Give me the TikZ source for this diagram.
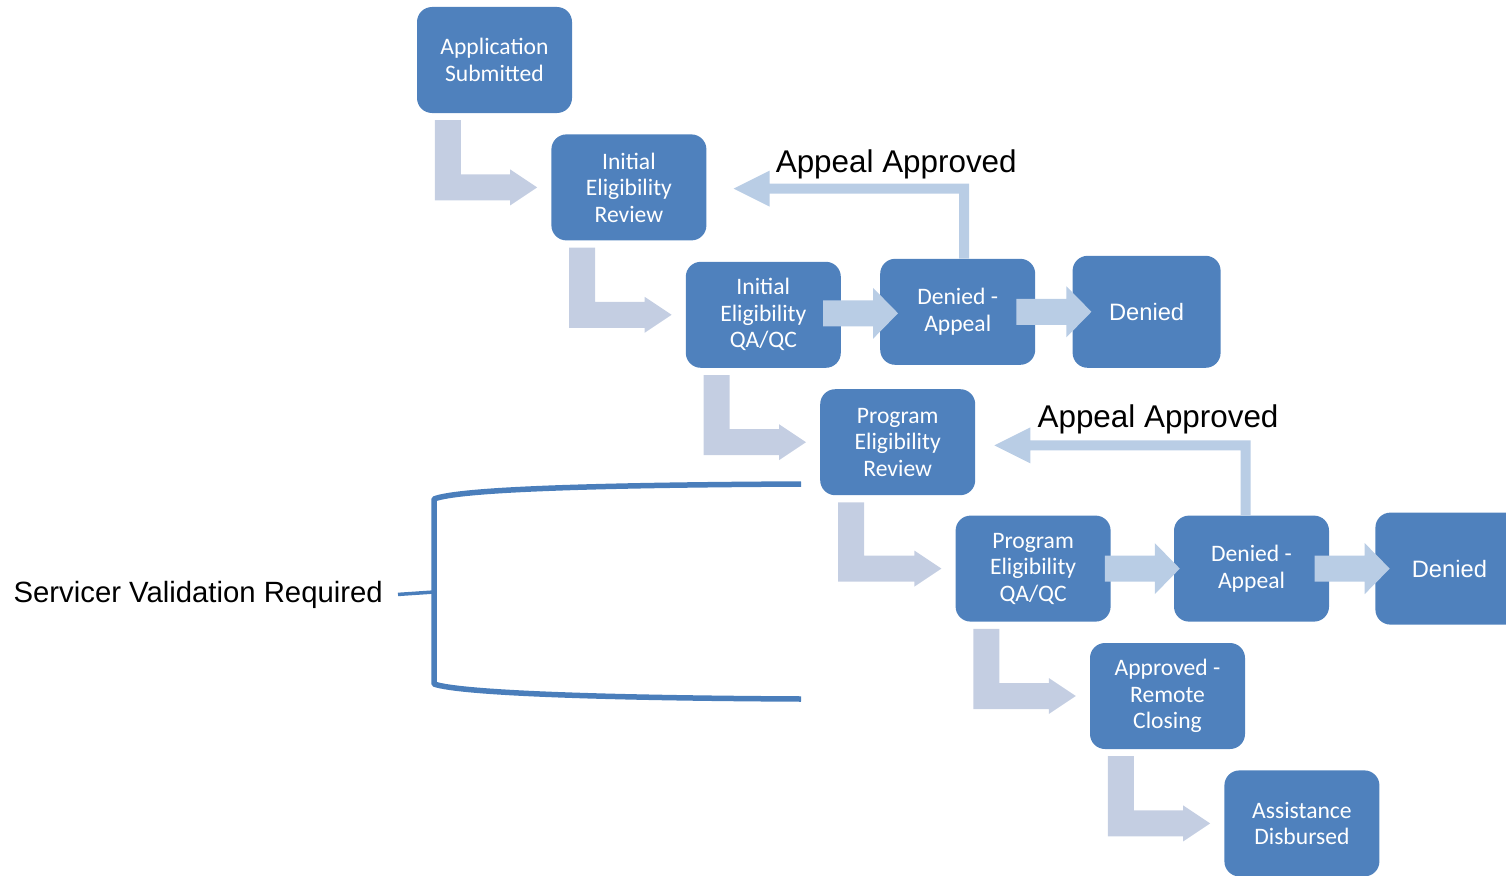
\documentclass[tikz,border=0pt]{standalone}
\usepackage{fontspec}
\setmainfont{Carlito}
\newfontfamily\arialfont{Liberation Sans}
\usepackage{tikz}
\usetikzlibrary{positioning,calc}
\definecolor{boxblue}{HTML}{4F81BD}
\definecolor{bentgray}{HTML}{C4CEE2}
\definecolor{flowblue}{HTML}{B9CDE5}
\definecolor{bracketblue}{HTML}{4A7EBB}
\tikzstyle{stage}=[rectangle,rounded corners=15pt,fill=boxblue,text=white,align=center,inner sep=0pt,minimum width=155pt,minimum height=106pt,font=\fontsize{23.6}{26.5}\selectfont]
\tikzstyle{final}=[stage,minimum width=148pt,minimum height=112pt,font=\arialfont\fontsize{23.7}{28}\selectfont]
\tikzstyle{note}=[inner sep=0pt,font=\arialfont\fontsize{31.4}{36}\selectfont]
\tikzstyle{bent}=[fill=bentgray]
\tikzstyle{flow}=[fill=flowblue]
\tikzstyle{brace}=[draw=bracketblue,line width=5.5pt,line join=round]
% bent arrow from under one box to the next box
\newcommand{\stepdown}[2]{%
  \fill[bent] let \p1=($(#1.south west)+(18pt,-7pt)$), \p2=($(#2.west)+(-14pt,0pt)$) in
    (\x1,\y1) -- (\x1+26pt,\y1) -- (\x1+26pt,\y2+13pt) -- (\x2-27pt,\y2+13pt) -- (\x2-27pt,\y2+18pt)
    -- (\x2,\y2) -- (\x2-27pt,\y2-18pt) -- (\x2-27pt,\y2-13pt) -- (\x1,\y2-13pt) -- cycle;}
% straight arrow between two boxes of a row
\newcommand{\passon}[2]{%
  \fill[flow] let \p1=($(#1.east)!0.5!(#2.west)$) in
    (\x1-37.5pt,\y1+13pt) -- (\x1+12.5pt,\y1+13pt) -- (\x1+12.5pt,\y1+25.5pt) -- (\x1+37.5pt,\y1)
    -- (\x1+12.5pt,\y1-25.5pt) -- (\x1+12.5pt,\y1-13pt) -- (\x1-37.5pt,\y1-13pt) -- cycle;}
% appeal arrow back up to a box
\newcommand{\appealback}[4]{%
  \fill[flow] let \p1=($(#1.north)+(#3pt,0pt)$), \p2=($(#2.east)+(#4pt,0pt)$) in
    (\x1-5pt,\y1) -- (\x1-5pt,\y1+65pt) -- (\x2+36pt,\y1+65pt) -- (\x2+36pt,\y1+52pt) -- (\x2,\y1+70pt)
    -- (\x2+36pt,\y1+88pt) -- (\x2+36pt,\y1+75pt) -- (\x1+5pt,\y1+75pt) -- (\x1+5pt,\y1) -- cycle;}
\begin{document}
\begin{tikzpicture}[x=1pt,y=-1pt]
  \useasboundingbox (0,0) rectangle (1506,875);
  \clip (0,0) rectangle (1506,875);

  % boxes
  \node[stage] (app) at (494.5,60) {Application\\Submitted};
  \node[stage] (ier) [below right=21pt and -21pt of app] {Initial\\Eligibility\\Review};
  \node[stage] (ieq) [below right=21pt and -21pt of ier] {Initial\\Eligibility\\QA/QC};
  \node[stage] (da1) [right=39pt of ieq, yshift=3pt] {Denied -\\Appeal};
  \node[final] (den1) [right=37pt of da1] {Denied};
  \node[stage] (per) [below right=21pt and -21pt of ieq] {Program\\Eligibility\\Review};
  \node[stage] (peq) [below right=20pt and -20pt of per] {Program\\Eligibility\\QA/QC};
  \node[stage] (da2) [right=63pt of peq] {Denied -\\Appeal};
  \node[final] (den2) [right=46pt of da2] {Denied};
  \node[stage] (arc) [below right=21pt and -21pt of peq] {Approved -\\Remote\\Closing};
  \node[stage] (dis) [below right=21pt and -21pt of arc] {Assistance\\Disbursed};

  % arrows
  \stepdown{app}{ier}
  \stepdown{ier}{ieq}
  \stepdown{ieq}{per}
  \stepdown{per}{peq}
  \stepdown{peq}{arc}
  \stepdown{arc}{dis}
  \passon{ieq}{da1}
  \passon{da1}{den1}
  \passon{peq}{da2}
  \passon{da2}{den2}
  \appealback{da1}{ier}{6.5}{27}
  \appealback{da2}{per}{-6}{19}
  \node[note, anchor=base west] (ok1) at ($(ier.east)+(69,-14.5)$) {Appeal Approved};
  \node[note, anchor=base west] (ok2) at ($(per.east)+(62,-14.5)$) {Appeal Approved};

  % servicer bracket
  \node[note, font=\arialfont\fontsize{29.3}{34}\selectfont, anchor=base east] (svr) at (383,602) {Servicer Validation Required};
  \coordinate (bk) at (434,592);
  \draw[brace] (801,484) .. controls (600,485) and (460,489) .. (434,499) -- (434,684) .. controls (460,693) and (600,698) .. (801,699);
  \draw[draw=bracketblue,line width=3.5pt] ([xshift=15pt]svr.east) -- (bk);
\end{tikzpicture}
\end{document}
